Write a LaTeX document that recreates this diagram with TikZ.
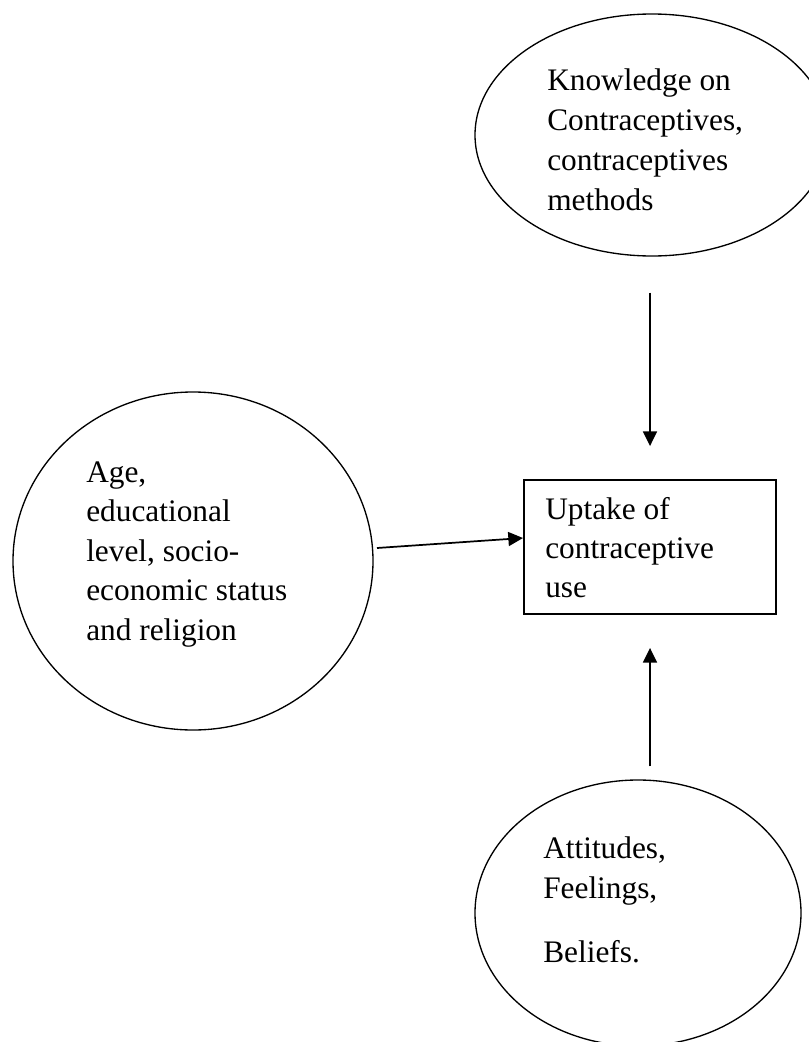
\documentclass[tikz,border=0pt]{standalone}
\usepackage{fontspec}
\setmainfont{Liberation Serif}
\usetikzlibrary{shapes.geometric,arrows.meta}
\begin{document}
\begin{tikzpicture}[x=0.75pt,y=-0.75pt,
  oval/.style={draw,ellipse,line width=1pt,inner sep=0pt},
  boxnode/.style={draw,rectangle,line width=1.4pt,inner sep=0pt},
  lbl/.style={anchor=base west,align=left,inner sep=0pt},
  arr/.style={line width=1.3pt,-{Triangle[length=11pt,width=10.5pt]}}]
\useasboundingbox (0,0) rectangle (809,1042);
\clip (0,0) rectangle (809,1042);
% shapes
\node[oval,minimum width=265.5pt,minimum height=181.5pt] (know) at (652,135) {};
\node[oval,minimum width=270pt,minimum height=253.5pt] (age) at (193,561) {};
\node[boxnode,minimum width=189pt,minimum height=100.5pt] (uptake) at (650,547) {};
\node[oval,minimum width=244.5pt,minimum height=199.5pt] (att) at (638,913) {};
% texts (anchored at the baseline of the last line)
\node[lbl,font=\fontsize{23.5}{30}\selectfont] (tknow) at (547,210)
  {Knowledge on\\Contraceptives,\\contraceptives\\methods};
\node[lbl,font=\fontsize{23.5}{29.6}\selectfont] (tage) at (86,640)
  {Age,\\educational\\level, socio-\\economic status\\and religion};
\node[lbl,font=\fontsize{23.5}{28.9}\selectfont] (tuptake) at (545,597)
  {Uptake of\\contraceptive\\use};
\node[lbl,font=\fontsize{23.5}{30}\selectfont] (tatt) at (543,962)
  {Attitudes,\\Feelings,\\[18pt]Beliefs.};
% connectors
\coordinate (hs) at (377,548);
\coordinate (he) at (523,538);
\draw[arr,shorten <=27pt,shorten >=24.75pt] (know.south -| uptake.north) -- (uptake.north);
\draw[arr] (hs) -- (he);
\draw[arr,shorten <=9.75pt,shorten >=24.75pt] (att.north -| uptake.south) -- (uptake.south);
\end{tikzpicture}
\end{document}
